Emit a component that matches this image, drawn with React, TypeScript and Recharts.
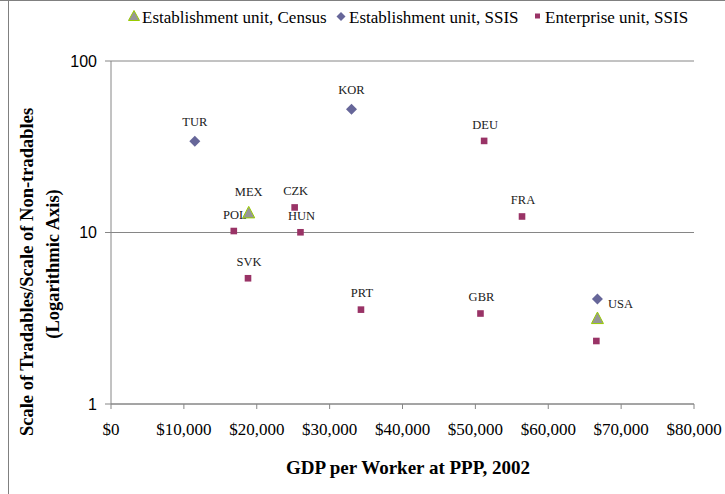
import React from 'react';
import { ScatterChart, Scatter, XAxis, YAxis, CartesianGrid } from 'recharts';

// ---- Data ----
const censusCountries = ['MEX', 'USA'];
const censusLabels = ['MEX', ''];
const censusGdp = [18900, 66750];
const censusRatio = [13.1, 3.17];

const estCountries = ['TUR', 'KOR', 'USA'];
const estLabels = ['TUR', 'KOR', 'USA'];
const estGdp = [11500, 33000, 66750];
const estRatio = [34.1, 52.3, 4.09];

const entCountries = ['DEU', 'CZK', 'POL', 'HUN', 'FRA', 'SVK', 'PRT', 'GBR', 'USA'];
const entLabels = ['DEU', 'CZK', 'POL', 'HUN', 'FRA', 'SVK', 'PRT', 'GBR', ''];
const entGdp = [51200, 25200, 16850, 26000, 56400, 18800, 34300, 50700, 66600];
const entRatio = [34.2, 14.0, 10.2, 10.03, 12.4, 5.41, 3.55, 3.37, 2.33];

const xTicks = [0, 10000, 20000, 30000, 40000, 50000, 60000, 70000, 80000];
const yTicks = [1, 10, 100];

const seriesNames = ['Establishment unit, Census', 'Establishment unit, SSIS', 'Enterprise unit, SSIS'];

const build = (countries: string[], labels: string[], gdp: number[], ratio: number[]) =>
  countries.map((c, i) => ({ country: c, label: labels[i], gdp: gdp[i], ratio: ratio[i] }));

const censusData = build(censusCountries, censusLabels, censusGdp, censusRatio);
const estData = build(estCountries, estLabels, estGdp, estRatio);
const entData = build(entCountries, entLabels, entGdp, entRatio);

const SERIF = '"Liberation Serif", "Times New Roman", serif';
const SANS = '"Liberation Sans", Arial, sans-serif';
const GRID = '#868686';
const C_TRI_FILL = '#969696';
const C_TRI_STROKE = '#99CC00';
const C_DIA = '#666699';
const C_SQ = '#993366';

const labelText = (x: number, y: number, text: string, anchor: string) =>
  text ? (
    <text x={x} y={y} textAnchor={anchor as any} fontFamily={SERIF} fontSize={12.5} fill="#1a1a1a">
      {text}
    </text>
  ) : null;

const TriangleShape = (props: any) => {
  const { cx, cy, payload } = props;
  return (
    <g>
      <polygon
        points={`${cx},${cy - 6} ${cx + 6},${cy + 5.5} ${cx - 6},${cy + 5.5}`}
        fill={C_TRI_FILL}
        stroke={C_TRI_STROKE}
        strokeWidth={1}
      />
      {labelText(cx, cy - 15.9, payload.label, 'middle')}
    </g>
  );
};

const DiamondShape = (props: any) => {
  const { cx, cy, payload } = props;
  const right = payload.country === 'USA';
  return (
    <g>
      <polygon points={`${cx},${cy - 5.5} ${cx + 5.5},${cy} ${cx},${cy + 5.5} ${cx - 5.5},${cy}`} fill={C_DIA} />
      {right
        ? labelText(cx + 10.5, cy + 8.5, payload.label, 'start')
        : labelText(cx, cy - 15.4, payload.label, 'middle')}
    </g>
  );
};

const SquareShape = (props: any) => {
  const { cx, cy, payload } = props;
  return (
    <g>
      <rect x={cx - 3.3} y={cy - 3.3} width={6.6} height={6.6} fill={C_SQ} />
      {labelText(cx + 1, cy - 12.4, payload.label, 'middle')}
    </g>
  );
};

const fmtDollar = (v: number) => '$' + v.toLocaleString('en-US');

export default function App() {
  return (
    <div style={{ position: 'absolute', left: 0, top: 0, width: 725, height: 494, background: '#fff' }}>
      <div style={{ position: 'absolute', left: 0, top: 0, width: 725, height: 1, background: '#808080' }} />
      <div style={{ position: 'absolute', left: 8, top: 0, width: 1, height: 494, background: '#808080' }} />
      <div style={{ position: 'absolute', left: 0, top: 0 }}>
        <ScatterChart width={725} height={494} margin={{ top: 61, right: 31, bottom: 30, left: 0 }}>
          <CartesianGrid vertical={false} stroke={GRID} strokeWidth={1} />
          <XAxis
            type="number"
            dataKey="gdp"
            domain={[0, 80000]}
            ticks={xTicks}
            interval={0}
            tickFormatter={fmtDollar}
            height={60}
            tickSize={5}
            tickMargin={13.5}
            axisLine={{ stroke: GRID }}
            tickLine={{ stroke: GRID }}
            tick={{ fontFamily: SERIF, fontSize: 17, fill: '#000' }}
            label={{
              content: () => (
                <text x={408} y={474} textAnchor="middle" fontFamily={SERIF} fontSize={19} fontWeight="bold" fill="#000">
                  GDP per Worker at PPP, 2002
                </text>
              ),
            }}
          />
          <YAxis
            type="number"
            dataKey="ratio"
            scale="log"
            domain={[1, 100]}
            ticks={yTicks}
            interval={0}
            allowDataOverflow
            width={111}
            tickSize={6}
            tickMargin={8}
            axisLine={{ stroke: GRID }}
            tickLine={{ stroke: GRID }}
            tick={{ fontFamily: SANS, fontSize: 16, fill: '#000' }}
            label={{
              content: () => (
                <g fontFamily={SERIF} fontSize={18.5} fontWeight="bold" fill="#000">
                  <text transform="translate(33, 272) rotate(-90)" textAnchor="middle">
                    Scale of Tradables/Scale of Non-tradables
                  </text>
                  <text transform="translate(59, 264) rotate(-90)" textAnchor="middle">
                    (Logarithmic Axis)
                  </text>
                </g>
              ),
            }}
          />
          <Scatter name={seriesNames[2]} data={entData} shape={SquareShape} isAnimationActive={false} />
          <Scatter name={seriesNames[1]} data={estData} shape={DiamondShape} isAnimationActive={false} />
          <Scatter name={seriesNames[0]} data={censusData} shape={TriangleShape} isAnimationActive={false} />
        </ScatterChart>
      </div>
      <svg style={{ position: 'absolute', left: 0, top: 0 }} width={725} height={40}>
        <g fontFamily={SERIF} fontSize={17} fill="#000">
          <polygon points="134,10.5 139.5,20.5 128.5,20.5" fill={C_TRI_FILL} stroke={C_TRI_STROKE} strokeWidth={1} />
          <text x={142} y={22.5}>{seriesNames[0]}</text>
          <polygon points="341,12 345.5,16.5 341,21 336.5,16.5" fill={C_DIA} />
          <text x={349} y={22.5}>{seriesNames[1]}</text>
          <rect x={535} y={13.5} width={5} height={5} fill={C_SQ} />
          <text x={545} y={22.5}>{seriesNames[2]}</text>
        </g>
      </svg>
    </div>
  );
}
